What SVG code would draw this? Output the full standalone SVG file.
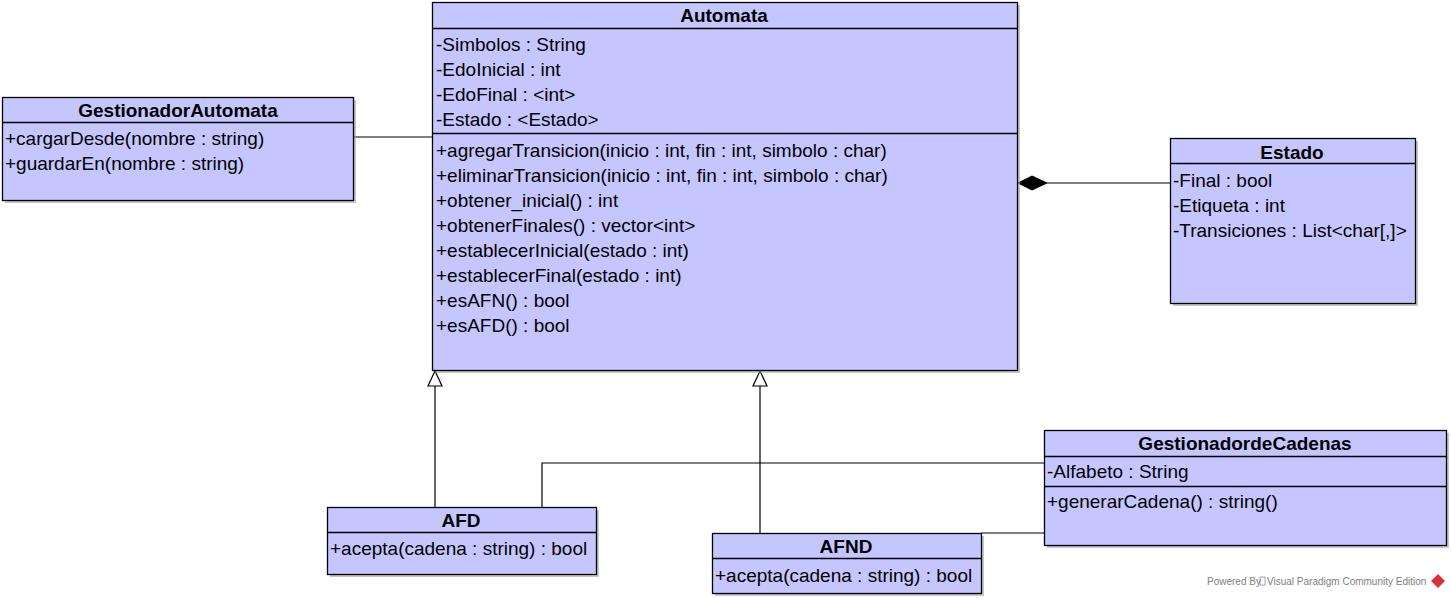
<svg xmlns="http://www.w3.org/2000/svg" width="1451" height="598" viewBox="0 0 1451 598">
<defs>
<style>
.box{fill:#c6c6ff;stroke:#000;stroke-width:1.3}
.sh{fill:#a0a0a0;opacity:0.6}
.div{stroke:#000;stroke-width:1.3}
.t{font-family:"Liberation Sans",Arial,sans-serif;font-size:19px;fill:#000}
.h{font-family:"Liberation Sans",Arial,sans-serif;font-size:19px;font-weight:bold;fill:#000;text-anchor:middle}
.ln{fill:none;stroke:#000;stroke-width:1.2}
.wm{font-family:"Liberation Sans",Arial,sans-serif;font-size:10px;fill:#808080}
</style>
</defs>
<rect width="1451" height="598" fill="#fff"/>

<g id="connectors">
<line class="ln" x1="353" y1="137" x2="432" y2="137"/>
<line class="ln" x1="1047" y1="183" x2="1170" y2="183"/>
<polygon points="1018,183 1032,176 1047,183 1032,190" fill="#000" stroke="#000"/>
<line class="ln" x1="435" y1="386" x2="435" y2="507"/>
<polygon points="435,371 428,386 442,386" fill="#fff" stroke="#000" stroke-width="1.2"/>
<line class="ln" x1="760" y1="386" x2="760" y2="533"/>
<polygon points="760,371 753,386 767,386" fill="#fff" stroke="#000" stroke-width="1.2"/>
<polyline class="ln" points="1044,463 542,463 542,507"/>
<line class="ln" x1="981" y1="533" x2="1044" y2="533"/>
</g>

<g id="GestionadorAutomata">
<rect class="sh" x="5" y="100" width="351" height="103"/>
<rect class="box" x="2.5" y="97.5" width="351" height="103"/>
<line class="div" x1="2.5" y1="122.5" x2="353.5" y2="122.5"/>
<text class="h" x="178" y="117">GestionadorAutomata</text>
<text class="t" x="5" y="145">+cargarDesde(nombre : string)</text>
<text class="t" x="5" y="170">+guardarEn(nombre : string)</text>
</g>

<g id="Automata">
<rect class="sh" x="435" y="5" width="585" height="368"/>
<rect class="box" x="432.5" y="2.5" width="585" height="368"/>
<line class="div" x1="432.5" y1="28.5" x2="1017.5" y2="28.5"/>
<line class="div" x1="432.5" y1="133.5" x2="1017.5" y2="133.5"/>
<text class="h" x="724" y="22">Automata</text>
<text class="t" x="436" y="51">-Simbolos : String</text>
<text class="t" x="436" y="76">-EdoInicial : int</text>
<text class="t" x="436" y="101">-EdoFinal : &lt;int&gt;</text>
<text class="t" x="436" y="126">-Estado : &lt;Estado&gt;</text>
<text class="t" x="436" y="157">+agregarTransicion(inicio : int, fin : int, simbolo : char)</text>
<text class="t" x="436" y="182">+eliminarTransicion(inicio : int, fin : int, simbolo : char)</text>
<text class="t" x="436" y="207">+obtener_inicial() : int</text>
<text class="t" x="436" y="232">+obtenerFinales() : vector&lt;int&gt;</text>
<text class="t" x="436" y="257">+establecerInicial(estado : int)</text>
<text class="t" x="436" y="282">+establecerFinal(estado : int)</text>
<text class="t" x="436" y="307">+esAFN() : bool</text>
<text class="t" x="436" y="332">+esAFD() : bool</text>
</g>

<g id="Estado">
<rect class="sh" x="1173" y="141" width="245" height="165"/>
<rect class="box" x="1170.5" y="138.5" width="245" height="165"/>
<line class="div" x1="1170.5" y1="163.5" x2="1415.5" y2="163.5"/>
<text class="h" x="1292" y="159">Estado</text>
<text class="t" x="1173" y="187">-Final : bool</text>
<text class="t" x="1173" y="212">-Etiqueta : int</text>
<text class="t" x="1173" y="237">-Transiciones : List&lt;char[,]&gt;</text>
</g>

<g id="GestionadordeCadenas">
<rect class="sh" x="1047" y="433" width="402" height="115"/>
<rect class="box" x="1044.5" y="430.5" width="402" height="115"/>
<line class="div" x1="1044.5" y1="456.5" x2="1446.5" y2="456.5"/>
<line class="div" x1="1044.5" y1="486.5" x2="1446.5" y2="486.5"/>
<text class="h" x="1245" y="450">GestionadordeCadenas</text>
<text class="t" x="1047" y="478">-Alfabeto : String</text>
<text class="t" x="1047" y="508">+generarCadena() : string()</text>
</g>

<g id="AFD">
<rect class="sh" x="330" y="510" width="269" height="67"/>
<rect class="box" x="327.5" y="507.5" width="269" height="67"/>
<line class="div" x1="327.5" y1="532.5" x2="596.5" y2="532.5"/>
<text class="h" x="461" y="527">AFD</text>
<text class="t" x="330" y="555">+acepta(cadena : string) : bool</text>
</g>

<g id="AFND">
<rect class="sh" x="715" y="536" width="269" height="60"/>
<rect class="box" x="712.5" y="533.5" width="269" height="60"/>
<line class="div" x1="712.5" y1="558.5" x2="981.5" y2="558.5"/>
<text class="h" x="846" y="553">AFND</text>
<text class="t" x="715" y="582">+acepta(cadena : string) : bool</text>
</g>

<g id="watermark">
<text class="wm" x="1207" y="585">Powered By</text>
<rect x="1260" y="577" width="5" height="8" fill="none" stroke="#808080" stroke-width="0.7"/>
<text class="wm" x="1267" y="585">Visual Paradigm Community Edition</text>
<polygon points="1438,574 1445,581 1438,588 1431,581" fill="#d9303a"/>
</g>
</svg>
